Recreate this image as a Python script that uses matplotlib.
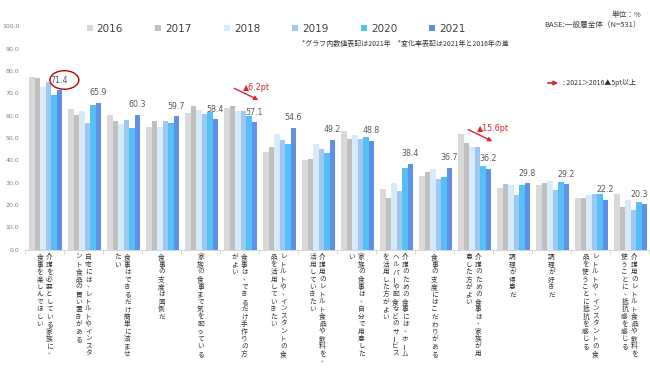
import numpy as np
import matplotlib.pyplot as plt
from matplotlib.patches import Ellipse, FancyArrowPatch

# -----------------------------
# data
# -----------------------------
years = ["2016", "2017", "2018", "2019", "2020", "2021"]

categories = [
    ["介護を必要としている家族に、", "食事を楽しんでほしい"],
    ["自宅には、レトルトやインスタ", "ント食品の買い置きがある"],
    ["食事はできるだけ簡単に済ませ", "たい"],
    ["食事の支度は面倒だ"],
    ["家族の食事まで気を配っている"],
    ["食事は、できるだけ手作りの方", "がよい"],
    ["レトルトや、インスタントの食", "品を活用していきたい"],
    ["介護用のレトルト食品や飲料を、", "活用していきたい"],
    ["家族の食事は、自分で用意した", "い"],
    ["介護のための食事には、ホーム", "ヘルパーや配食などのサービス", "を活用した方がよい"],
    ["食事の支度にはこだわりがある"],
    ["介護のための食事は、家族が用", "意した方がよい"],
    ["調理が得意だ"],
    ["調理が好きだ"],
    ["レトルトや、インスタントの食", "品を使うことに抵抗を感じる"],
    ["介護用のレトルト食品や飲料を", "使うことに、抵抗感を感じる"],
]

y2016 = [77.3, 62.8, 60.2, 55.1, 61.3, 63.3, 43.7, 40.0, 53.1, 27.0, 33.0, 51.8, 27.6, 29.1, 23.0, 24.9]
y2017 = [77.0, 60.2, 57.6, 57.6, 64.3, 64.3, 46.0, 40.6, 49.7, 23.3, 34.8, 47.8, 29.4, 29.7, 23.3, 19.1]
y2018 = [72.8, 62.1, 56.1, 54.9, 62.5, 62.1, 52.0, 47.3, 51.2, 29.7, 36.0, 46.0, 29.1, 30.9, 24.5, 22.2]
y2019 = [75.2, 56.9, 57.9, 57.6, 60.9, 62.1, 49.1, 44.9, 49.4, 26.2, 31.5, 46.0, 24.3, 26.7, 24.8, 17.7]
y2020 = [69.2, 64.6, 54.6, 56.9, 61.8, 59.8, 47.3, 43.4, 50.4, 36.7, 32.7, 37.4, 28.8, 30.3, 24.8, 21.5]
y2021 = [71.4, 65.9, 60.3, 59.7, 58.4, 57.1, 54.6, 49.2, 48.8, 38.4, 36.7, 36.2, 29.8, 29.2, 22.2, 20.3]

series = [y2016, y2017, y2018, y2019, y2020, y2021]
colors = ["#d9d9d9", "#bfbfbf", "#d5ebfb", "#9ec8f2", "#55c0f5", "#5f8fe6"]

# callouts for big drops: (group index, text)
drops = [(5, "▲6.2pt"), (11, "▲15.6pt")]

JP = ["Noto Sans CJK JP", "DejaVu Sans"]
plt.rcParams["font.family"] = JP

# -----------------------------
# figure
# -----------------------------
fig = plt.figure(figsize=(6.5, 3.69), dpi=100)
ax = fig.add_axes([25 / 650, 1 - 249.6 / 369, 624 / 650, 223.2 / 369])

x = np.arange(len(categories))
w = 0.14
shift = 0.03
for j, (vals, c) in enumerate(zip(series, colors)):
    ax.bar(x + shift + (j - 2.5) * w, vals, width=w, color=c, label=years[j], linewidth=0)

# value labels on 2021 bars
n = len(categories)
for i, v in enumerate(y2021):
    lx = x[i] + shift + 2.5 * w - (0.12 if i == n - 1 else 0)
    ax.annotate(f"{v:.1f}", xy=(lx, v), xytext=(0, 4),
                textcoords="offset points", ha="center", va="bottom",
                fontsize=5.7, color="#595959", family="DejaVu Sans")

ax.set_xlim(-0.5, n - 0.5)
ax.set_ylim(0, 100)
ax.set_yticks(np.arange(0, 101, 10))
ax.set_yticklabels([f"{t:.1f}" for t in np.arange(0, 101, 10)],
                   fontsize=4.5, color="#7f7f7f", family="DejaVu Sans")
ax.tick_params(axis="y", length=0, pad=4)
ax.set_xticks([])
ax.set_xticks(np.arange(-0.5, n), minor=True)
ax.tick_params(axis="x", which="minor", length=3, color="#d0d0d0", width=0.6)
for s in ["top", "right", "left"]:
    ax.spines[s].set_visible(False)
ax.spines["bottom"].set_color("#d0d0d0")
ax.spines["bottom"].set_linewidth(0.6)

# vertical (tategaki) category labels, columns right to left
step = 5.35
col_gap = 7.0
for i, cols in enumerate(categories):
    nc = len(cols)
    for j, line in enumerate(cols):
        dx = ((nc - 1) / 2 - j) * col_gap
        for k, ch in enumerate(line):
            rot = 90 if ch == "ー" else 0
            ox, oy = dx, -5.5 - k * step
            if ch == "、":
                ox, oy = dx + 1.5, oy + 1.5
            ax.annotate(ch, xy=(x[i], 0), xycoords=("data", "axes fraction"),
                        xytext=(ox, oy), textcoords="offset points",
                        ha="center", va="center", rotation=rot,
                        fontsize=4.8, color="#333333", annotation_clip=False)

# circle around the top item
ax.add_patch(Ellipse((x[0] + 0.51, 76.0), 0.74, 8.3, fill=False,
                     edgecolor="#c00000", linewidth=1.0))

# drop arrows
for i, txt in drops:
    y0 = y2016[i]
    y1 = y2021[i]
    top = max(y0, y1) + 9.5 if i == 5 else y0 + 2.5
    end = y1 + 9.4 if i == 5 else y1 + 11.8
    ax.annotate("", xy=(x[i] + 0.55, end), xytext=(x[i] - 0.2, top),
                arrowprops=dict(arrowstyle="-|>", color="#d9252b", lw=1.0,
                                mutation_scale=6))
    ax.text(x[i] + 0.08, top, txt, fontsize=5.8, color="#d9252b",
            ha="left", va="center", family="DejaVu Sans")

# legend
fig.legend(loc="center", bbox_to_anchor=(0.425, 1 - 29 / 369), ncol=6,
           frameon=False, handlelength=0.55, handleheight=0.55,
           handletextpad=0.4, columnspacing=3.1,
           prop={"family": "DejaVu Sans", "size": 7.5},
           labelcolor="#404040")

# header notes
fig.text(641 / 650, 1 - 15 / 369, "単位：%", ha="right", va="center",
         fontsize=5.5, color="#404040")
fig.text(641 / 650, 1 - 25 / 369, "BASE:一般層全体（N=531）", ha="right",
         va="center", fontsize=5.5, color="#404040")
fig.text(302 / 650, 1 - 44 / 369,
         "*グラフ内数値表記は2021年　*変化率表記は2021年と2016年の差",
         ha="left", va="center", fontsize=5, color="#333333")

# arrow key
fig.patches.append(FancyArrowPatch(
    (545 / 650, 1 - 83 / 369), (561 / 650, 1 - 83 / 369),
    transform=fig.transFigure, arrowstyle="-|>", color="#d9252b",
    lw=1.2, mutation_scale=6))
fig.text(563 / 650, 1 - 83 / 369, ": 2021＞2016▲5pt以上", ha="left",
         va="center", fontsize=5, color="#333333")

fig.savefig("out.png", dpi=100)
